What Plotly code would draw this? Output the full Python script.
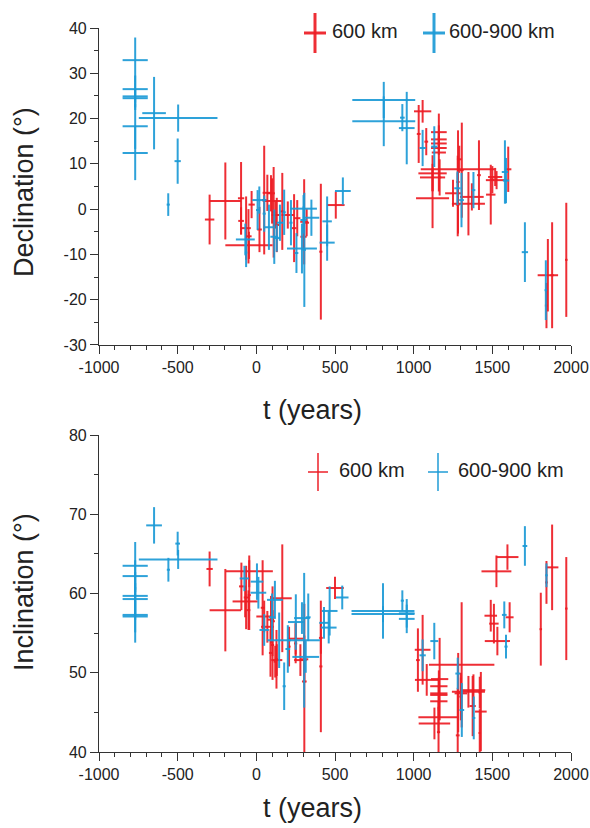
import plotly.graph_objects as go

# ---------------- DATA ----------------
# Declination, 600 km (red): t, t error, D, D error
dec_red_t    = [-297,-197,-47,-97,-97,-65,-50,-30,50,70,100,110,122,165,200,240,304,300,320,410,505,20,93,260,130,
                1057,1032,1080,1160,1160,1160,1160,1160,1120,1120,1120,1165,1280,1282,1290,1306,1415,1527,1518,1500,1601,
                1250,1348,1370,1280,1490,1853,1880,1844,1970]
dec_red_terr = [30,100,150,20,18,30,20,20,15,30,60,10,25,12,40,15,25,20,15,10,56,15,25,20,15,
                55,12,12,45,50,50,50,50,90,80,105,10,235,10,15,12,12,68,45,10,20,
                50,105,75,12,30,65,10,10,8]
dec_red_v    = [-2.3,1.8,-8.0,2.4,-2.6,-4.2,-6.0,1.0,2.0,3.6,1.8,-0.7,-1.3,-0.5,-1.3,-4.2,-2.8,-6.1,-3.0,-9.4,0.9,-4.5,3.5,-2.0,-3.5,
                21.6,16.6,14.9,12.5,17.0,15.4,14.5,13.5,7.9,7.0,2.4,7.0,8.8,6.0,11.0,8.6,7.5,6.4,7.1,6.5,8.8,
                3.5,1.2,2.7,1.0,3.2,-14.6,-14.6,-21.3,-11.2]
dec_red_verr = [5.5,8.5,3,8,3,7,6,3,12,4,5,10,3,8.5,3,7.5,9.4,3,3,15,3,5,4,4,6,
                2.5,6.4,3,8.6,1.5,1.5,1.5,1.5,4,3,6.6,4,3,11.4,3,10.5,7.7,2,2,3,5,
                3,7,3,7,6.6,8,11.7,5,12.6]

# Declination, 600-900 km (blue)
dec_blue_t    = [-770,-770,-770,-770,-770,-770,-650,-497,-500,-560,-70,-65,8,19,50,114,130,177,220,290,300,305,300,255,350,450,450,550,
                 810,810,928,956,1057,1131,1278,1304,1380,1580,1587,1707,1840,80,150]
dec_blue_terr = [80,80,80,80,80,80,75,250,20,10,60,8,10,45,10,25,20,10,10,95,85,10,20,12,50,30,48,50,
                 200,200,15,50,20,20,20,15,12,20,20,20,8,30,20]
dec_blue_v    = [32.9,26.5,24.9,24.5,18.3,12.4,21.2,20.1,10.6,1.0,-6.7,-9.6,-0.2,2.0,-1.0,-6.1,-6.4,-0.7,-3.0,-8.7,0.1,-9.0,-2.4,-9.7,-1.9,-2.7,-7.4,4.0,
                 24.1,19.4,20.2,17.9,13.5,13.8,4.6,2.0,4.2,8.2,6.3,-9.5,-17.9,-4.0,-3.0]
dec_blue_verr = [5,3,3,2,5,6,8,3,5,2.5,3.5,3.2,4.4,3,4,6,3,5,5,5.5,3,12.6,3,4.4,4,5.5,4,3,
                 4,5.5,3,8,4,4.5,3.7,6,4,7,5,6.6,6.6,5,4]

# Inclination, 600 km (red)
inc_red_t    = [-297,-197,-45,-95,-71,-65,-50,-45,50,40,93,103,103,130,128,165,208,250,280,305,305,410,410,500,250,90,120,70,
                1027,1057,1083,1165,1160,1160,1160,1160,1158,1132,1158,1305,1280,1283,1348,1300,1300,1380,1375,1427,1420,1420,
                1490,1526,1596,1532,1510,1610,1808,1844,1880,1970]
inc_red_terr = [20,100,150,15,80,15,12,10,50,12,20,10,15,35,10,60,10,50,40,15,25,10,12,56,10,10,10,40,
                12,50,75,55,55,55,55,55,128,100,10,208,12,10,105,40,10,75,20,37,8,8,
                40,95,70,80,30,25,8,8,40,8]
inc_red_v    = [63.1,57.9,62.8,60.9,59.0,59.5,57.9,59.8,57.1,58.2,56.7,53.5,56.5,51.6,51.7,59.4,53.3,54.3,51.6,48.9,51.7,50.8,54.4,60.7,53.7,52.5,51.4,55.8,
                51.6,52.9,49.1,49.2,48.3,47.4,47.2,46.4,44.4,43.6,42.5,51.0,42.1,47.5,47.6,47.4,47.0,47.8,45.8,45.1,42.4,47.5,
                57.2,62.8,64.6,54.0,56.2,57.0,55.5,61.4,63.3,58.1]
inc_red_verr = [2.2,5.2,2,3,2,4,2.5,4.4,2,6,3,4.4,4.4,2,3.7,6.8,2.5,2,2,9.8,3,8.3,2,1.4,2.5,3,2,2,
                4,4.4,2,5.2,2,2,2,2,2,2,3.2,7.9,6,5,2,2,3,2,3.8,5,3,2,
                2,2,1.6,1.8,2.5,1.9,4.6,2.7,5.4,6.5]

# Inclination, 600-900 km (blue)
inc_blue_t    = [-770,-770,-770,-770,-770,-770,-650,-500,-497,-559,-76,4,13,118,50,145,177,251,304,314,290,430,466,460,546,
                 805,805,928,956,956,1057,1131,1280,1306,1382,1576,1587,1707,1844,100,200,330]
inc_blue_terr = [80,80,80,80,80,80,50,15,250,10,30,40,50,50,30,75,10,50,100,85,50,30,50,50,40,
                 200,200,10,50,50,20,25,15,15,10,15,10,15,8,20,15,15]
inc_blue_v    = [63.5,62.2,59.7,59.3,57.3,57.1,68.6,66.3,64.3,63.0,61.9,61.5,60.1,59.2,55.4,54.1,48.3,56.4,54.1,52.0,56.9,56.3,57.8,55.7,59.5,
                 57.8,57.4,59.1,57.5,56.8,52.2,54.0,49.9,45.3,44.3,57.3,53.3,66.0,62.3,57.0,53.0,57.0]
inc_blue_verr = [3,2,3,2,3.5,2,2.3,1.5,1.2,1.5,1.6,2.3,2,2.4,2,3.5,3,3.5,8.5,2,2,2,3.1,2,1.5,
                 3.5,1,1.3,1.8,1.8,2,2.3,2,3.4,2.7,1.7,1.5,2.5,1.5,3,3,3]

x_ticks = [-1000, -500, 0, 500, 1000, 1500, 2000]
x_ticktext = ["-1000", "-500", "0", "500", "1000", "1500", "2000"]
dec_ticks = [-30, -20, -10, 0, 10, 20, 30, 40]
dec_ticktext = ["-30", "-20", "-10", "0", "10", "20", "30", "40"]
inc_ticks = [40, 50, 60, 70, 80]
legend_labels = ["600 km", "600-900 km"]

RED = "rgba(237,28,36,0.92)"
BLUE = "rgba(28,154,214,0.92)"
FONT = "Liberation Sans, Arial, sans-serif"

fig = go.Figure()

def add(t, terr, v, verr, color, yaxis):
    fig.add_trace(go.Scatter(
        x=t, y=v, mode="markers", xaxis="x" if yaxis == "y" else "x2", yaxis=yaxis,
        marker=dict(size=1, color="rgba(0,0,0,0)"),
        error_x=dict(type="data", array=terr, symmetric=True, color=color, thickness=2, width=0),
        error_y=dict(type="data", array=verr, symmetric=True, color=color, thickness=2, width=0),
        showlegend=False, hoverinfo="skip"))

add(dec_red_t, dec_red_terr, dec_red_v, dec_red_verr, RED, "y")
add(dec_blue_t, dec_blue_terr, dec_blue_v, dec_blue_verr, BLUE, "y")
add(inc_red_t, inc_red_terr, inc_red_v, inc_red_verr, RED, "y2")
add(inc_blue_t, inc_blue_terr, inc_blue_v, inc_blue_verr, BLUE, "y2")

axis_common = dict(showline=True, linecolor="#333", linewidth=1.2, ticks="outside", ticklen=8,
                   tickcolor="#333", tickwidth=1.2, showgrid=False, zeroline=False,
                   tickfont=dict(family=FONT, size=16, color="#222"), mirror=False,
                   ticklabeloverflow="allow", automargin=False)
minor_x = dict(dtick=100, ticklen=4, ticks="outside", tickcolor="#333")
minor_y = dict(dtick=5, ticklen=4, ticks="outside", tickcolor="#333")

W, H, L, R, T, B = 590, 828, 99, 19, 28, 76

fig.update_layout(
    width=W, height=H, plot_bgcolor="white", paper_bgcolor="white",
    margin=dict(l=L, r=R, t=T, b=B),
    xaxis=dict(domain=[0, 1], anchor="y", range=[-1000, 2000], tickvals=x_ticks, ticktext=x_ticktext,
               minor=minor_x, **axis_common),
    yaxis=dict(domain=[0.5622, 1], anchor="x", range=[-30, 40], tickvals=dec_ticks, ticktext=dec_ticktext,
               minor=minor_y, **axis_common),
    xaxis2=dict(domain=[0, 1], anchor="y2", range=[-1000, 2000], tickvals=x_ticks, ticktext=x_ticktext,
                minor=minor_x, **axis_common),
    yaxis2=dict(domain=[0, 0.4378], anchor="x2", range=[40, 80], tickvals=inc_ticks,
                minor=minor_y, **axis_common),
)

PW, PH = W - L - R, H - T - B
def px(xp): return (xp - L) / PW
def py(yp): return (H - B - yp) / PH

shapes = []
def cross(cx, cy, hw, hh, color, w):
    shapes.append(dict(type="line", xref="paper", yref="paper", x0=px(cx), x1=px(cx), y0=py(cy - hh), y1=py(cy + hh),
                       line=dict(color=color, width=w)))
    shapes.append(dict(type="line", xref="paper", yref="paper", x0=px(cx - hw), x1=px(cx + hw), y0=py(cy), y1=py(cy),
                       line=dict(color=color, width=w)))

cross(315, 33, 11, 20, RED, 3)
cross(434, 33, 11, 20, BLUE, 3)
cross(318, 472, 10, 19, RED, 1.6)
cross(438, 472, 10, 19, BLUE, 1.6)

ann = []
def text(s, x, y, size, angle=0, xanchor="left"):
    ann.append(dict(text=s, xref="paper", yref="paper", x=px(x), y=py(y), showarrow=False,
                    xanchor=xanchor, yanchor="middle", textangle=angle,
                    font=dict(family=FONT, size=size, color="#222")))

text(legend_labels[0], 330, 31, 20)
text(legend_labels[1], 447, 31, 20)
text(legend_labels[0], 337, 470, 20)
text(legend_labels[1], 456, 470, 20)
text("Declination (°)", 24, 192, 27, angle=-90, xanchor="center")
text("Inclination (°)", 24, 592, 27, angle=-90, xanchor="center")
text("t (years)", 312, 410, 27, xanchor="center")
text("t (years)", 312, 808, 27, xanchor="center")

fig.update_layout(shapes=shapes, annotations=ann)
fig.write_html("out.html")
